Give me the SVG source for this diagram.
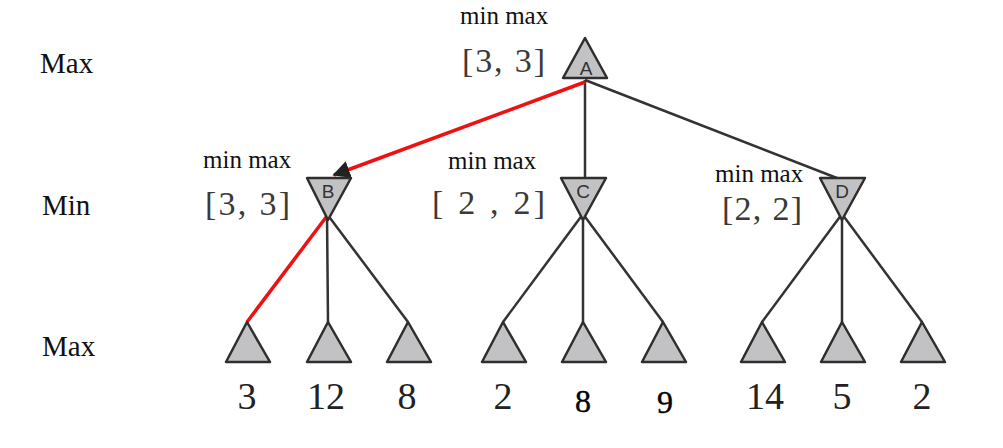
<svg xmlns="http://www.w3.org/2000/svg" width="1003" height="448" viewBox="0 0 1003 448">
<style>
.tri{fill:#c2c2c4;stroke:#2e2e2e;stroke-width:2.5;stroke-linejoin:round}
.e{stroke:#333;stroke-width:2.5;fill:none}
.r{stroke:#ee1111;stroke-width:3.5;fill:none}
.lvl{font-family:"Liberation Serif",serif;font-size:29px;fill:#111}
.mm{font-family:"Liberation Serif",serif;font-size:25px;fill:#111}
.iv{font-family:"Liberation Serif",serif;font-size:34px;fill:#3a3a3a}
.lab{font-family:"Liberation Sans",sans-serif;font-size:19px;fill:#333;text-anchor:middle}
.v{font-family:"Liberation Serif",serif;font-size:38px;fill:#222;text-anchor:middle}
.v2{font-family:"Liberation Serif",serif;font-size:32px;fill:#000;text-anchor:middle;stroke:#000;stroke-width:0.4}
</style>
<defs>
<marker id="ah" viewBox="0 0 10 10" refX="9" refY="5" markerWidth="5" markerHeight="5" orient="auto">
<path d="M0,0 L10,5 L0,10 z" fill="#222"/>
</marker>
</defs>
<g id="levels">
<text class="lvl" x="40" y="73">Max</text>
<text class="lvl" x="42" y="215">Min</text>
<text class="lvl" x="42" y="356">Max</text>
</g>
<g id="connectors">
<line class="e" x1="585" y1="80" x2="585" y2="178"/>
<line class="e" x1="585" y1="80" x2="842" y2="180"/>
<line class="e" x1="327" y1="214" x2="328" y2="322"/>
<line class="e" x1="327" y1="214" x2="408" y2="322"/>
<line class="e" x1="583" y1="214" x2="503" y2="322"/>
<line class="e" x1="583" y1="214" x2="583" y2="322"/>
<line class="e" x1="583" y1="214" x2="663" y2="322"/>
<line class="e" x1="842" y1="214" x2="762" y2="322"/>
<line class="e" x1="842" y1="214" x2="842" y2="322"/>
<line class="e" x1="842" y1="214" x2="922" y2="322"/>
<line class="r" x1="585" y1="82" x2="334" y2="175" marker-end="url(#ah)"/>
<line class="r" x1="327" y1="216" x2="247" y2="322"/>
</g>
<g id="A">
<polygon class="tri" points="585,38 563,78 607,78"/>
<text class="lab" x="586" y="75">A</text>
<text class="mm" x="460" y="24">min max</text>
<text class="iv" x="462" y="72" textLength="83">[3, 3]</text>
</g>
<g id="B">
<polygon class="tri" points="307,178 351,178 328,220"/>
<text class="lab" x="328" y="198">B</text>
<text class="mm" x="203" y="168">min max</text>
<text class="iv" x="205" y="215" textLength="85">[3, 3]</text>
</g>
<g id="C">
<polygon class="tri" points="561,178 606,178 583,220"/>
<text class="lab" x="583" y="198">C</text>
<text class="mm" x="448" y="169">min max</text>
<text class="iv" x="432" y="214" textLength="113">[ 2 , 2]</text>
</g>
<g id="D">
<polygon class="tri" points="820,178 865,178 842,220"/>
<text class="lab" x="842" y="198">D</text>
<text class="mm" x="715" y="182">min max</text>
<text class="iv" x="722" y="220" textLength="80">[2, 2]</text>
</g>
<g id="leaf1"><polygon class="tri" points="247,322 226,362 270,362"/><text class="v" x="247" y="409">3</text></g>
<g id="leaf2"><polygon class="tri" points="328,322 307,362 351,362"/><text class="v" x="326" y="409">12</text></g>
<g id="leaf3"><polygon class="tri" points="408,322 387,362 431,362"/><text class="v" x="407" y="409">8</text></g>
<g id="leaf4"><polygon class="tri" points="503,322 482,362 526,362"/><text class="v" x="503" y="409">2</text></g>
<g id="leaf5"><polygon class="tri" points="583,322 562,362 606,362"/><text class="v2" x="583" y="412">8</text></g>
<g id="leaf6"><polygon class="tri" points="663,322 642,362 686,362"/><text class="v2" x="665" y="413">9</text></g>
<g id="leaf7"><polygon class="tri" points="762,322 741,362 785,362"/><text class="v" x="765" y="409">14</text></g>
<g id="leaf8"><polygon class="tri" points="842,322 821,362 865,362"/><text class="v" x="842" y="409">5</text></g>
<g id="leaf9"><polygon class="tri" points="922,322 901,362 945,362"/><text class="v" x="922" y="409">2</text></g>
</svg>
